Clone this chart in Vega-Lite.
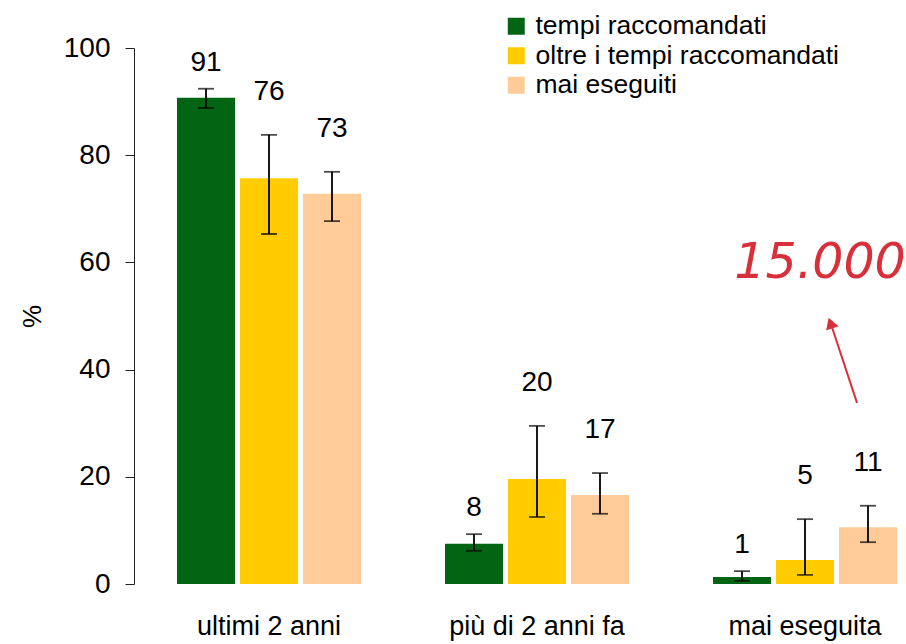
{
  "$schema": "https://vega.github.io/schema/vega-lite/v6.json",
  "width": 772,
  "height": 536,
  "autosize": {"type": "none"},
  "padding": {"left": 134, "top": 48, "right": 0, "bottom": 60},
  "background": "white",
  "config": {
    "view": {"stroke": null},
    "font": "Liberation Sans"
  },
  "datasets": {
    "bars": [
      {"group": "ultimi 2 anni", "series": "tempi raccomandati", "value": 90.7, "lo": 88.8, "hi": 92.4},
      {"group": "ultimi 2 anni", "series": "oltre i tempi raccomandati", "value": 75.7, "lo": 65.3, "hi": 83.8},
      {"group": "ultimi 2 anni", "series": "mai eseguiti", "value": 72.8, "lo": 67.7, "hi": 76.9},
      {"group": "più di 2 anni fa", "series": "tempi raccomandati", "value": 7.5, "lo": 6.2, "hi": 9.3},
      {"group": "più di 2 anni fa", "series": "oltre i tempi raccomandati", "value": 19.6, "lo": 12.5, "hi": 29.5},
      {"group": "più di 2 anni fa", "series": "mai eseguiti", "value": 16.6, "lo": 13.1, "hi": 20.7},
      {"group": "mai eseguita", "series": "tempi raccomandati", "value": 1.3, "lo": 0.6, "hi": 2.4},
      {"group": "mai eseguita", "series": "oltre i tempi raccomandati", "value": 4.5, "lo": 1.7, "hi": 12.1},
      {"group": "mai eseguita", "series": "mai eseguiti", "value": 10.6, "lo": 7.8, "hi": 14.6}
    ],
    "note": [
      {"group": "mai eseguita", "label": "15.000", "y": 57.1, "ystart": 33.8, "yend": 47.9, "yhead": 48.7}
    ]
  },
  "layer": [
    {
      "data": {"name": "bars"},
      "mark": {"type": "bar"},
      "encoding": {
        "x": {
          "field": "group", "type": "nominal",
          "sort": ["ultimi 2 anni", "più di 2 anni fa", "mai eseguita"],
          "scale": {"domain": ["ultimi 2 anni", "più di 2 anni fa", "mai eseguita"], "paddingInner": 0.3134, "paddingOuter": 0.097, "align": 0.827, "round": false},
          "axis": {"title": null, "labelAngle": 0, "domain": false, "ticks": false, "labelFontSize": 27, "labelColor": "black", "labelPadding": 29, "labelFont": "Liberation Sans"}
        },
        "xOffset": {
          "field": "series", "type": "nominal",
          "sort": ["tempi raccomandati", "oltre i tempi raccomandati", "mai eseguiti"],
          "scale": {"paddingInner": 0.0794, "paddingOuter": 0, "round": false}
        },
        "y": {
          "field": "value", "type": "quantitative",
          "scale": {"domain": [0, 100], "nice": false},
          "axis": {"title": "%", "values": [0, 20, 40, 60, 80, 100], "grid": false, "tickSize": 9, "tickColor": "#222", "domainColor": "#222", "labelFontSize": 28, "labelColor": "black", "labelPadding": 15, "titleFontSize": 26, "titleFontWeight": "normal", "titleColor": "black", "titlePadding": 18, "labelFont": "Liberation Sans", "titleFont": "Liberation Sans"}
        },
        "color": {
          "field": "series", "type": "nominal",
          "scale": {"domain": ["tempi raccomandati", "oltre i tempi raccomandati", "mai eseguiti"], "range": ["#036513", "#FFCC00", "#FFCC99"]},
          "legend": {"title": null, "orient": "none", "legendX": 369, "legendY": -35, "symbolType": "square", "symbolSize": 289, "symbolStrokeWidth": 0, "labelFontSize": 26.5, "labelColor": "black", "labelOffset": 6, "labelLimit": 0, "rowPadding": 2.5, "padding": 0, "labelFont": "Liberation Sans"}
        }
      }
    },
    {
      "data": {"name": "bars"},
      "mark": {"type": "rule", "color": "black", "strokeWidth": 1.8},
      "encoding": {
        "x": {"field": "group", "type": "nominal", "sort": ["ultimi 2 anni", "più di 2 anni fa", "mai eseguita"]},
        "xOffset": {"field": "series", "type": "nominal", "sort": ["tempi raccomandati", "oltre i tempi raccomandati", "mai eseguiti"]},
        "y": {"field": "lo", "type": "quantitative"},
        "y2": {"field": "hi"}
      }
    },
    {
      "data": {"name": "bars"},
      "mark": {"type": "tick", "color": "black", "thickness": 1.8, "size": 16},
      "encoding": {
        "x": {"field": "group", "type": "nominal", "sort": ["ultimi 2 anni", "più di 2 anni fa", "mai eseguita"]},
        "xOffset": {"field": "series", "type": "nominal", "sort": ["tempi raccomandati", "oltre i tempi raccomandati", "mai eseguiti"]},
        "y": {"field": "lo", "type": "quantitative"}
      }
    },
    {
      "data": {"name": "bars"},
      "mark": {"type": "tick", "color": "black", "thickness": 1.8, "size": 16},
      "encoding": {
        "x": {"field": "group", "type": "nominal", "sort": ["ultimi 2 anni", "più di 2 anni fa", "mai eseguita"]},
        "xOffset": {"field": "series", "type": "nominal", "sort": ["tempi raccomandati", "oltre i tempi raccomandati", "mai eseguiti"]},
        "y": {"field": "hi", "type": "quantitative"}
      }
    },
    {
      "data": {"name": "bars"},
      "transform": [{"filter": "datum.series === 'tempi raccomandati'"}],
      "mark": {"type": "text", "fontSize": 28, "font": "Liberation Sans", "color": "black", "baseline": "middle", "dy": -26},
      "encoding": {
        "x": {"field": "group", "type": "nominal", "sort": ["ultimi 2 anni", "più di 2 anni fa", "mai eseguita"]},
        "xOffset": {"field": "series", "type": "nominal", "sort": ["tempi raccomandati", "oltre i tempi raccomandati", "mai eseguiti"]},
        "y": {"field": "hi", "type": "quantitative"},
        "text": {"field": "value", "type": "quantitative", "format": ".0f"}
      }
    },
    {
      "data": {"name": "bars"},
      "transform": [{"filter": "datum.series !== 'tempi raccomandati'"}],
      "mark": {"type": "text", "fontSize": 28, "font": "Liberation Sans", "color": "black", "baseline": "middle", "dy": -43},
      "encoding": {
        "x": {"field": "group", "type": "nominal", "sort": ["ultimi 2 anni", "più di 2 anni fa", "mai eseguita"]},
        "xOffset": {"field": "series", "type": "nominal", "sort": ["tempi raccomandati", "oltre i tempi raccomandati", "mai eseguiti"]},
        "y": {"field": "hi", "type": "quantitative"},
        "text": {"field": "value", "type": "quantitative", "format": ".0f"}
      }
    },
    {
      "data": {"name": "note"},
      "mark": {"type": "rule", "color": "#D7303B", "strokeWidth": 2, "xOffset": 52, "x2Offset": 27},
      "encoding": {
        "x": {"field": "group", "type": "nominal", "sort": ["ultimi 2 anni", "più di 2 anni fa", "mai eseguita"]},
        "x2": {"field": "group"},
        "y": {"field": "ystart", "type": "quantitative"},
        "y2": {"field": "yend"}
      }
    },
    {
      "data": {"name": "note"},
      "mark": {"type": "point", "shape": "triangle-up", "filled": true, "color": "#D7303B", "opacity": 1, "size": 170, "angle": 341, "xOffset": 25.5},
      "encoding": {
        "x": {"field": "group", "type": "nominal", "sort": ["ultimi 2 anni", "più di 2 anni fa", "mai eseguita"]},
        "y": {"field": "yhead", "type": "quantitative"}
      }
    },
    {
      "data": {"name": "note"},
      "mark": {"type": "text", "font": "DejaVu Sans", "fontStyle": "italic", "fontSize": 49, "color": "#D7303B", "align": "center", "baseline": "alphabetic", "dx": 15},
      "encoding": {
        "x": {"field": "group", "type": "nominal", "sort": ["ultimi 2 anni", "più di 2 anni fa", "mai eseguita"]},
        "y": {"field": "y", "type": "quantitative"},
        "text": {"field": "label"}
      }
    }
  ]
}
